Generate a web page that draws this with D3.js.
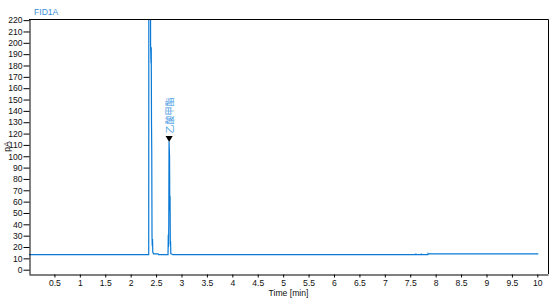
<!DOCTYPE html>
<html>
<head>
<meta charset="utf-8">
<script src="https://cdn.jsdelivr.net/npm/d3@7"></script>
<style>
  body { margin: 0; background: #fff; }
  text { font-family: "Liberation Sans", Arial, sans-serif; }
</style>
</head>
<body>
<div id="chartDiv"></div>
<script>
// FID1A trace (time in min, signal in pA)
var traceTime = [0, 2.355, 2.358, 2.388, 2.392, 2.400, 2.405, 2.410, 2.415, 2.420, 2.425, 2.430, 2.435,
                 2.440, 2.450, 2.540, 2.550, 2.735, 2.740, 2.745, 2.750, 2.755, 2.765, 2.770, 2.775,
                 2.780, 2.785, 2.790, 2.820, 2.830, 7.605, 7.610, 7.615, 7.715, 7.720, 7.725,
                 7.845, 7.850, 7.855, 10.02];
var traceValue = [13.2, 13.2, 300, 300, 198, 182, 196, 130, 104, 29, 21, 27, 15.5,
                  15, 14, 14, 13.2, 13.2, 31, 20, 40, 113, 100, 52, 65,
                  22, 25, 14, 13.6, 13.2, 13.2, 14.2, 13.2, 13.2, 14.2, 13.2,
                  13.2, 14.2, 13.9, 13.9];

// named peak
var peakNames = ["乙酸甲酯"];
var peakTimes = [2.757];
var peakValues = [113];

var xTickValues = [0.5, 1, 1.5, 2, 2.5, 3, 3.5, 4, 4.5, 5, 5.5, 6, 6.5, 7, 7.5, 8, 8.5, 9, 9.5, 10];
var yTickValues = [0, 10, 20, 30, 40, 50, 60, 70, 80, 90, 100, 110, 120, 130, 140, 150, 160, 170,
                   180, 190, 200, 210, 220];

var lineColor = "#0a7ad6";
var margin = {top: 19, right: 6, bottom: 26, left: 29};
var width = 554, height = 300;

var svg = d3.select("#chartDiv").append("svg")
    .attr("width", width)
    .attr("height", height);

var x_scale = d3.scaleLinear()
    .domain([0, 10.21])
    .range([margin.left, width - margin.right]);

var y_scale = d3.scaleLinear()
    .domain([-3.8, 221])
    .range([height - margin.bottom, margin.top]);

svg.append("clipPath").attr("id", "plotClip")
  .append("rect")
    .attr("x", margin.left)
    .attr("y", margin.top)
    .attr("width", width - margin.left - margin.right)
    .attr("height", height - margin.top - margin.bottom);

// trace
var line = d3.line()
    .x(function(d, i){ return x_scale(traceTime[i]); })
    .y(function(d){ return y_scale(d); });

svg.append("path")
    .datum(traceValue)
    .attr("clip-path", "url(#plotClip)")
    .attr("d", line)
    .attr("fill", "none")
    .attr("stroke", lineColor)
    .attr("stroke-width", 1.2);

// frame (top + right)
svg.append("path")
    .attr("d", "M" + margin.left + "," + (margin.top + 0.5) +
               "H" + (width - margin.right + 0.5) +
               "V" + (height - margin.bottom))
    .attr("fill", "none")
    .attr("stroke", "#000")
    .attr("stroke-width", 1);

// axes
var yAxis = svg.append("g")
    .attr("transform", "translate(" + (margin.left + 0.5) + ",0)")
    .call(d3.axisLeft(y_scale).tickValues(yTickValues).tickSize(6).tickPadding(1).tickSizeOuter(0));

var xAxis = svg.append("g")
    .attr("transform", "translate(0," + (height - margin.bottom + 0.5) + ")")
    .call(d3.axisBottom(x_scale).tickValues(xTickValues).tickFormat(function(d){ return String(d); })
          .tickSize(3).tickPadding(2).tickSizeOuter(0));

[yAxis, xAxis].forEach(function(g){
  g.selectAll("text")
      .style("font-family", "'Liberation Sans', Arial, sans-serif")
      .style("font-size", "8.6px")
      .attr("fill", "#111");
  g.selectAll("line, path").attr("stroke", "#000");
});

// axis titles
svg.append("text")
    .text("pA")
    .attr("transform", "translate(10," + ((margin.top + height - margin.bottom) / 2) + ") rotate(-90)")
    .attr("text-anchor", "middle")
    .style("font-size", "8.6px")
    .attr("fill", "#111");

svg.append("text")
    .text("Time [min]")
    .attr("x", (margin.left + width - margin.right) / 2)
    .attr("y", 296)
    .attr("text-anchor", "middle")
    .style("font-size", "8.6px")
    .attr("fill", "#111");

svg.append("text")
    .text("FID1A")
    .attr("x", 34)
    .attr("y", 14.5)
    .style("font-size", "8.6px")
    .attr("fill", "#3a8fd8");

// peak markers
var peaks = svg.append("g").selectAll(".peak").data(peakNames).enter()
    .append("g").attr("class", "peak");

peaks.append("path")
    .attr("d", d3.symbol().type(d3.symbolTriangle).size(22))
    .attr("transform", function(d, i){
      return "translate(" + x_scale(peakTimes[i]) + "," + (y_scale(peakValues[i]) - 3.5) + ") rotate(180)";
    })
    .attr("fill", "#000");

peaks.append("text")
    .text(function(d){ return d; })
    .attr("transform", function(d, i){
      return "translate(" + (x_scale(peakTimes[i]) + 3.5) + "," + (y_scale(peakValues[i]) - 8) + ") rotate(-90)";
    })
    .style("font-family", "'Noto Sans CJK SC', sans-serif")
    .style("font-size", "9px")
    .attr("fill", "#4a9ce2");
</script>
</body>
</html>
